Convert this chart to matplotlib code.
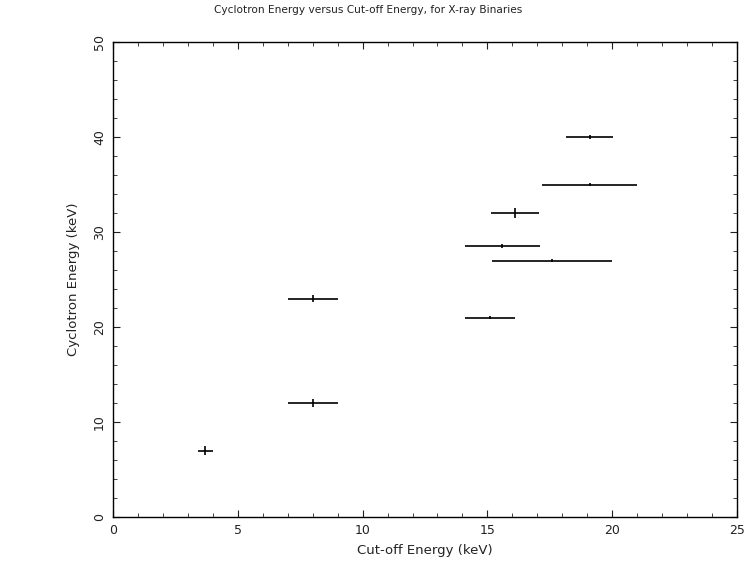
import numpy as np
import matplotlib.pyplot as plt
from matplotlib.ticker import MultipleLocator

# cut-off energy (keV), its half-range, cyclotron energy (keV), its error
cutoff = [3.7, 8.0, 8.0, 15.1, 17.6, 15.6, 16.1, 19.1, 19.1]
cutoff_err = [0.3, 1.0, 1.0, 1.0, 2.4, 1.5, 0.95, 1.9, 0.95]
cyclo = [7.0, 12.0, 23.0, 21.0, 27.0, 28.5, 32.0, 35.0, 40.0]
cyclo_err = [0.5, 0.4, 0.4, 0.2, 0.2, 0.2, 0.5, 0.2, 0.2]

fig = plt.figure(figsize=(7.46, 5.63), dpi=100)
ax = fig.add_axes([113 / 746, 46 / 563, 624 / 746, 475 / 563])

ax.errorbar(cutoff, cyclo, xerr=cutoff_err, yerr=cyclo_err, fmt='none',
            ecolor='black', elinewidth=1.2, capsize=0)

ax.set_xlim(0, 25)
ax.set_ylim(0, 50)
ax.xaxis.set_major_locator(MultipleLocator(5))
ax.xaxis.set_minor_locator(MultipleLocator(1))
ax.yaxis.set_major_locator(MultipleLocator(10))
ax.yaxis.set_minor_locator(MultipleLocator(2))
ax.tick_params(which='both', direction='in', top=True, right=True,
               labelsize=9, colors='#222222')
ax.tick_params(which='major', length=5, pad=5)
ax.tick_params(which='minor', length=3)
for lab in ax.get_yticklabels():
    lab.set_rotation(90)
    lab.set_va('center')
for s in ax.spines.values():
    s.set_linewidth(1.0)

ax.set_xlabel('Cut-off Energy (keV)', fontsize=9.5, color='#222222')
ax.xaxis.set_label_coords(0.5, -27 / 475)
ax.set_ylabel('Cyclotron Energy (keV)', fontsize=9.5, color='#222222')
ax.yaxis.set_label_coords(-33 / 624, 0.5)
fig.text(368 / 746, 1 - 10 / 563,
         'Cyclotron Energy versus Cut-off Energy, for X-ray Binaries',
         ha='center', va='center', fontsize=7.6, color='#222222')

plt.savefig('out.png', dpi=100)
